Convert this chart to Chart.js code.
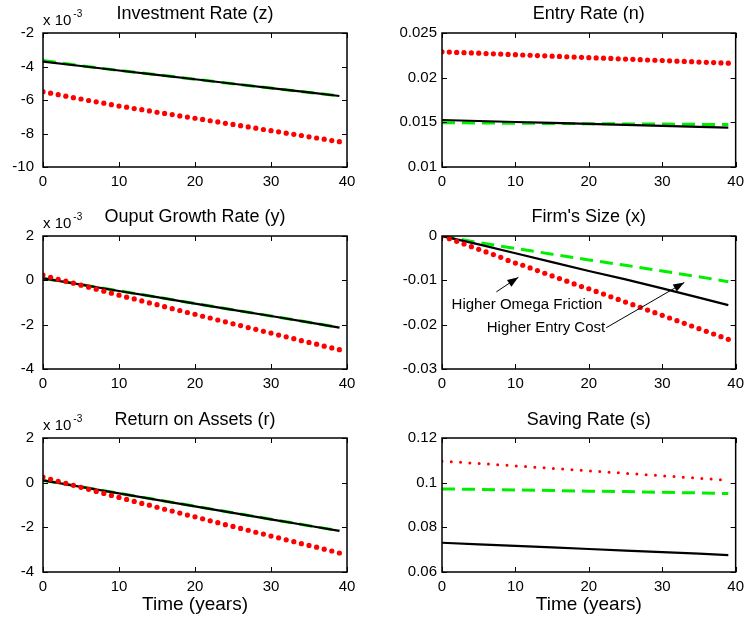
<!DOCTYPE html>
<html><head><meta charset="utf-8">
<script src="https://cdn.jsdelivr.net/npm/chart.js@4.4.1/dist/chart.umd.min.js"></script>
<style>
html,body{margin:0;padding:0;background:#fff;}
#wrap{position:relative;width:750px;height:620px;overflow:hidden;background:#fff;}
canvas{position:absolute;}
</style></head><body><div id="wrap">
<canvas id="c1"></canvas><canvas id="c2"></canvas>
<canvas id="c3"></canvas><canvas id="c4"></canvas>
<canvas id="c5"></canvas><canvas id="c6"></canvas>
</div>
<script>
// ---------------- DATA ----------------
const years = [0,1,2,3,4,5,6,7,8,9,10,11,12,13,14,15,16,17,18,19,20,21,22,23,24,25,26,27,28,29,30,31,32,33,34,35,36,37,38,39];
const lineYears = [0,5,10,15,20,25,30,35,39];
const xTicks = [0,10,20,30,40];

// Investment Rate (z), values in units of 10^-3
const invRed = [-5.50,-5.59,-5.68,-5.77,-5.86,-5.94,-6.03,-6.11,-6.19,-6.28,-6.36,-6.43,-6.51,-6.58,-6.65,-6.73,-6.80,-6.87,-6.95,-7.02,-7.09,-7.16,-7.24,-7.31,-7.39,-7.46,-7.53,-7.61,-7.68,-7.76,-7.83,-7.90,-7.98,-8.05,-8.12,-8.20,-8.27,-8.34,-8.42,-8.49];
const invBlack = [-3.71,-3.97,-4.24,-4.50,-4.76,-5.03,-5.29,-5.55,-5.76];
const invGreen = [-3.64,-3.96,-4.23,-4.49,-4.76,-5.03,-5.29,-5.55,-5.76];
const invTicks = [-10,-8,-6,-4,-2];
const invTickLabels = ['-10','-8','-6','-4','-2'];

// Entry Rate (n)
const entRed = [0.02290,0.02287,0.02283,0.02280,0.02277,0.02274,0.02270,0.02267,0.02264,0.02260,0.02257,0.02254,0.02251,0.02247,0.02244,0.02241,0.02238,0.02234,0.02231,0.02228,0.02224,0.02221,0.02218,0.02215,0.02211,0.02208,0.02205,0.02201,0.02198,0.02195,0.02192,0.02188,0.02185,0.02182,0.02179,0.02175,0.02172,0.02169,0.02165,0.02162];
const entBlack = [0.01526,0.01515,0.01504,0.01493,0.01482,0.01471,0.01460,0.01450,0.01441];
const entGreen = [0.01496,0.01493,0.01490,0.01487,0.01485,0.01482,0.01480,0.01477,0.01475];
const entTicks = [0.01,0.015,0.02,0.025];
const entTickLabels = ['0.01','0.015','0.02','0.025'];

// Ouput Growth Rate (y), values in units of 10^-3
const outRed = [0.24,0.14,0.05,-0.04,-0.13,-0.22,-0.31,-0.40,-0.49,-0.58,-0.67,-0.76,-0.84,-0.93,-1.02,-1.10,-1.19,-1.28,-1.36,-1.45,-1.53,-1.62,-1.70,-1.79,-1.87,-1.96,-2.04,-2.13,-2.21,-2.30,-2.38,-2.47,-2.55,-2.63,-2.72,-2.80,-2.88,-2.97,-3.05,-3.13];
const outBlack = [0.09,-0.19,-0.48,-0.76,-1.05,-1.33,-1.61,-1.90,-2.13];
const outGreen = [0.09,-0.185,-0.475,-0.755,-1.045,-1.325,-1.605,-1.895,-2.125];
const outTicks = [-4,-2,0,2];
const outTickLabels = ['-4','-2','0','2'];

// Firm's Size (x)
const sizeRed = [0,-0.0006,-0.0012,-0.0018,-0.0024,-0.0030,-0.0036,-0.0042,-0.0048,-0.0055,-0.0061,-0.0066,-0.0072,-0.0078,-0.0084,-0.0090,-0.0096,-0.0102,-0.0108,-0.0114,-0.0119,-0.0125,-0.0131,-0.0137,-0.0143,-0.0149,-0.0155,-0.0161,-0.0167,-0.0173,-0.0179,-0.0185,-0.0191,-0.0197,-0.0203,-0.0209,-0.0215,-0.0221,-0.0227,-0.0233];
const sizeBlack = [0,-0.0019,-0.0039,-0.0059,-0.0079,-0.0098,-0.0118,-0.0139,-0.0156];
const sizeGreen = [0,-0.0015,-0.0028,-0.0041,-0.0054,-0.0066,-0.0079,-0.0092,-0.0103];
const sizeTicks = [-0.03,-0.02,-0.01,0];
const sizeTickLabels = ['-0.03','-0.02','-0.01','0'];
const sizeNotes = ['Higher Omega Friction','Higher Entry Cost'];

// Return on Assets (r), values in units of 10^-3
const roaRed = [0.25,0.15,0.06,-0.03,-0.12,-0.21,-0.30,-0.39,-0.48,-0.57,-0.66,-0.75,-0.84,-0.93,-1.01,-1.10,-1.19,-1.27,-1.36,-1.45,-1.53,-1.62,-1.71,-1.79,-1.88,-1.96,-2.05,-2.13,-2.22,-2.30,-2.39,-2.47,-2.56,-2.64,-2.73,-2.81,-2.89,-2.98,-3.06,-3.15];
const roaBlack = [0.10,-0.19,-0.48,-0.77,-1.06,-1.35,-1.64,-1.93,-2.16];
const roaGreen = [0.10,-0.185,-0.475,-0.765,-1.055,-1.345,-1.635,-1.925,-2.155];
const roaTicks = [-4,-2,0,2];
const roaTickLabels = ['-4','-2','0','2'];

// Saving Rate (s)
const savRed = [0.1096,0.1086,0.1075,0.1064,0.1053,0.1042,0.1031,0.1020,0.1011];
const savGreen = [0.0972,0.0970,0.0967,0.0965,0.0962,0.0960,0.0957,0.0954,0.0951];
const savBlack = [0.0731,0.0724,0.0717,0.0710,0.0703,0.0696,0.0689,0.0682,0.0676];
const savTicks = [0.06,0.08,0.1,0.12];
const savTickLabels = ['0.06','0.08','0.1','0.12'];

const titles = ['Investment Rate (z)','Entry Rate (n)','Ouput Growth Rate (y)',"Firm's Size (x)",'Return on Assets (r)','Saving Rate (s)'];
const xTitle = 'Time (years)';
const expLabel = ['x 10','-3'];

// ---------------- STYLE / LAYOUT ----------------
const FONT = "'Liberation Sans', Arial, Helvetica, sans-serif";
Chart.defaults.font.family = FONT;
Chart.defaults.color = '#000';
const RED = '#ff0000', GREEN = '#00ee00', BLACK = '#000000';

const rowGeo = [
  {top:0,   h:200, tPad:{top:3.2,bottom:8.2}, xh:33},
  {top:200, h:203, tPad:{top:6.2,bottom:8.2}, xh:34},
  {top:403, h:217, tPad:{top:6.2,bottom:7.2}, xh:48}
];
const colGeo = [
  {left:0,   w:375, yw:43, padR:28, tickPad:9},
  {left:375, w:375, yw:67, padR:7,  tickPad:5}
];

const pairs = (xs, ys) => xs.map((x,i)=>({x:x, y:ys[i]}));

function arrow(ctx, x1,y1,x2,y2){
  ctx.beginPath(); ctx.moveTo(x1,y1); ctx.lineTo(x2,y2); ctx.stroke();
  const a = Math.atan2(y2-y1, x2-x1), L = 11, W = 4;
  ctx.beginPath();
  ctx.moveTo(x2,y2);
  ctx.lineTo(x2 - L*Math.cos(a) + W*Math.sin(a), y2 - L*Math.sin(a) - W*Math.cos(a));
  ctx.lineTo(x2 - L*Math.cos(a) - W*Math.sin(a), y2 - L*Math.sin(a) + W*Math.cos(a));
  ctx.closePath(); ctx.fill();
}

const matlabFrame = {
  id: 'matlabFrame',
  afterDraw(chart, args, opts) {
    const {ctx, chartArea: a, scales: {x, y}} = chart;
    ctx.save();
    ctx.strokeStyle = '#000'; ctx.lineWidth = 1.5;
    ctx.strokeRect(a.left, a.top, a.right - a.left, a.bottom - a.top);
    ctx.lineWidth = 1;
    const tl = 5;
    ctx.beginPath();
    x.ticks.forEach(t => {
      const p = Math.round(x.getPixelForValue(t.value)) + 0.5;
      ctx.moveTo(p, a.bottom); ctx.lineTo(p, a.bottom - tl);
      ctx.moveTo(p, a.top); ctx.lineTo(p, a.top + tl);
    });
    y.ticks.forEach(t => {
      const p = Math.round(y.getPixelForValue(t.value)) + 0.5;
      ctx.moveTo(a.left, p); ctx.lineTo(a.left + tl, p);
      ctx.moveTo(a.right, p); ctx.lineTo(a.right - tl, p);
    });
    ctx.stroke();
    if (opts.exponent) {
      ctx.fillStyle = '#000';
      ctx.textBaseline = 'alphabetic'; ctx.textAlign = 'left';
      ctx.font = '15px ' + FONT;
      ctx.fillText(expLabel[0], a.left, a.top - 8);
      const w = ctx.measureText(expLabel[0]).width;
      ctx.font = '10px ' + FONT;
      ctx.fillText(expLabel[1], a.left + w + 2, a.top - 16);
    }
    if (opts.notes) {
      ctx.fillStyle = '#000'; ctx.strokeStyle = '#000'; ctx.lineWidth = 1;
      ctx.font = '15px ' + FONT;
      ctx.textBaseline = 'middle'; ctx.textAlign = 'left';
      const X = v => x.getPixelForValue(v), Y = v => y.getPixelForValue(v);
      ctx.fillText(sizeNotes[0], X(1.3), Y(-0.0156));
      arrow(ctx, X(7.4), Y(-0.0126), X(10.4), Y(-0.0093));
      ctx.fillText(sizeNotes[1], X(6.1), Y(-0.0207));
      const tw = ctx.measureText(sizeNotes[1]).width;
      arrow(ctx, X(6.1) + tw + 1, Y(-0.0207), X(33.0), Y(-0.0105));
    }
    ctx.restore();
  }
};

function makePanel(idx, row, col, title, red, black, green, yTicks, yLabels, opts) {
  const R = rowGeo[row], C = colGeo[col];
  const cv = document.getElementById('c' + idx);
  cv.width = C.w; cv.height = R.h;
  cv.style.left = C.left + 'px'; cv.style.top = R.top + 'px';
  cv.style.width = C.w + 'px'; cv.style.height = R.h + 'px';
  const redDs = opts.redLine ? {
      data: pairs(lineYears, red), borderColor: RED, borderWidth: 3,
      borderDash: [0, 9.3], borderCapStyle: 'round', pointRadius: 0, order: 0
    } : {
      data: pairs(years, red), showLine: false, pointRadius: 2.6,
      pointBackgroundColor: RED, pointBorderWidth: 0, order: 0
    };
  new Chart(cv, {
    type: 'line',
    data: { datasets: [
      redDs,
      { data: pairs(lineYears, black), borderColor: BLACK, borderWidth: 2.2, pointRadius: 0, order: 1 },
      { data: pairs(lineYears, green), borderColor: GREEN, borderWidth: 3, borderDash: [13, 7], pointRadius: 0, order: 2 }
    ]},
    options: {
      responsive: false, animation: false,
      layout: { padding: { top: 0, right: C.padR, bottom: 0, left: 0 } },
      plugins: {
        legend: { display: false }, tooltip: { enabled: false },
        title: { display: true, text: title, fullSize: false, color: '#000',
                 font: { size: 18, weight: 'normal', lineHeight: 1.2 }, padding: R.tPad },
        matlabFrame: { exponent: !!opts.exponent, notes: !!opts.notes }
      },
      scales: {
        x: {
          type: 'linear', min: 0, max: 40,
          afterBuildTicks: s => { s.ticks = xTicks.map(v => ({ value: v })); },
          afterFit: s => { s.height = R.xh; },
          grid: { display: false, drawTicks: false }, border: { display: false },
          ticks: { padding: 6, font: { size: 15 }, maxRotation: 0, color: '#000',
                   callback: v => String(v) },
          title: { display: row === 2, text: xTitle, color: '#000',
                   font: { size: 19 }, padding: { top: 0, bottom: 3.5 } }
        },
        y: {
          type: 'linear', min: yTicks[0], max: yTicks[yTicks.length - 1],
          afterBuildTicks: s => { s.ticks = yTicks.map(v => ({ value: v })); },
          afterFit: s => { s.width = C.yw; },
          grid: { display: false, drawTicks: false }, border: { display: false },
          ticks: { padding: C.tickPad, font: { size: 15 }, color: '#000',
                   callback: v => { const i = yTicks.indexOf(v); return i >= 0 ? yLabels[i] : ''; } }
        }
      }
    },
    plugins: [matlabFrame]
  });
}

makePanel(1, 0, 0, titles[0], invRed, invBlack, invGreen, invTicks, invTickLabels, { exponent: true });
makePanel(2, 0, 1, titles[1], entRed, entBlack, entGreen, entTicks, entTickLabels, {});
makePanel(3, 1, 0, titles[2], outRed, outBlack, outGreen, outTicks, outTickLabels, { exponent: true });
makePanel(4, 1, 1, titles[3], sizeRed, sizeBlack, sizeGreen, sizeTicks, sizeTickLabels, { notes: true });
makePanel(5, 2, 0, titles[4], roaRed, roaBlack, roaGreen, roaTicks, roaTickLabels, { exponent: true });
makePanel(6, 2, 1, titles[5], savRed, savBlack, savGreen, savTicks, savTickLabels, { redLine: true });
</script></body></html>
